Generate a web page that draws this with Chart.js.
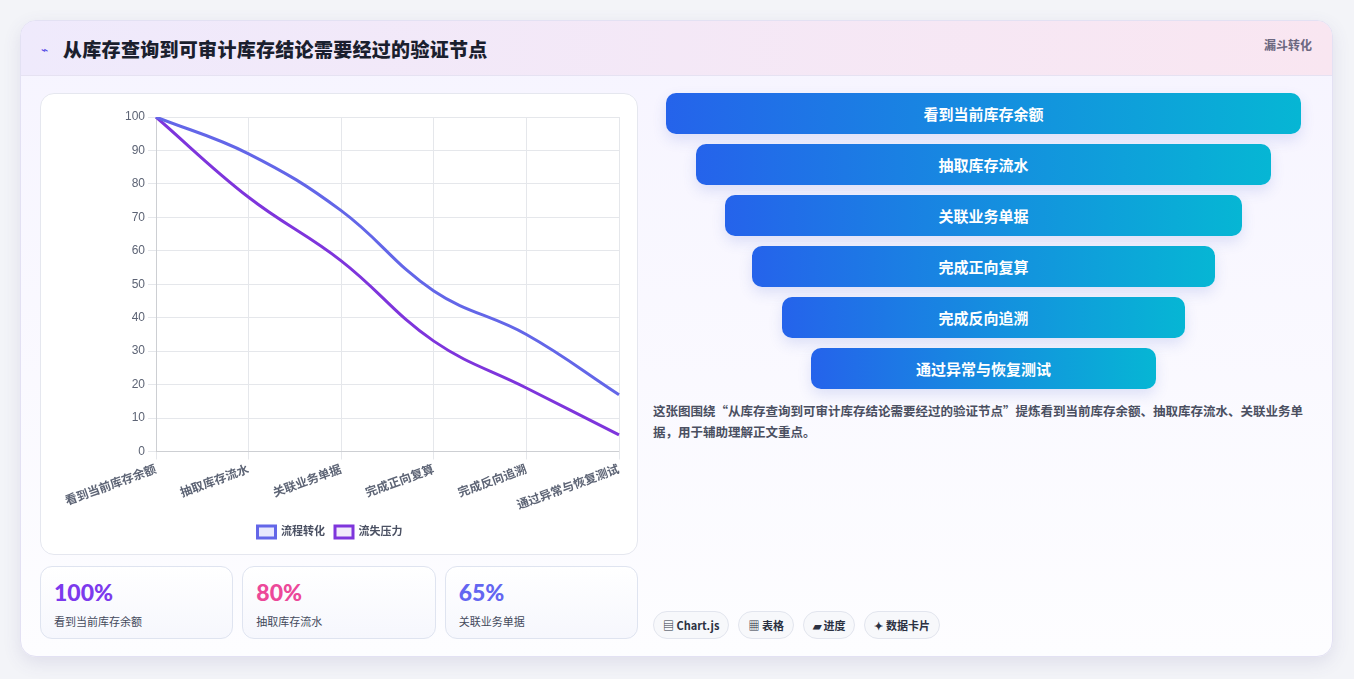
<!DOCTYPE html>
<html><head><meta charset="utf-8">
<script src="https://cdn.jsdelivr.net/npm/chart.js@4.4.1/dist/chart.umd.min.js"></script>
<style>
*{box-sizing:border-box;margin:0;padding:0}
body{width:1354px;height:679px;background:#f3f4f8;font-family:"Noto Sans CJK SC","Noto Sans",sans-serif;position:relative;overflow:hidden}
.card{position:absolute;left:20px;top:20px;width:1313px;height:637px;border-radius:16px;background:linear-gradient(180deg,#f6f4ff,#fdfdff);border:1px solid #e3e1f3;box-shadow:0 6px 18px rgba(80,70,140,.12);overflow:hidden}
.head{height:55px;background:linear-gradient(90deg,#efeafc,#f9e6f1);border-bottom:1px solid #e6e2f2;position:relative}
.head h1{position:absolute;left:42px;top:14px;font-size:19px;font-weight:900;color:#1b1f2e;letter-spacing:0.3px}
.head .ic{position:absolute;left:20px;top:19px;font-size:12px;color:#4f46e5}
.head .tag{position:absolute;right:20px;top:15px;font-size:12px;font-weight:700;color:#6b6880}
.cbox{position:absolute;left:19px;top:72px;width:598px;height:462px;background:#fff;border:1px solid #e5e7ef;border-radius:14px}
.stats{position:absolute;left:19px;top:545px;width:598px;height:73px;display:flex;gap:9px}
.st{flex:1;background:linear-gradient(180deg,#fff,#f6f7fd);border:1px solid #dfe4f0;border-radius:12px;padding:10px 13px}
.st b{display:block;font-family:Lato,"Noto Sans";font-size:23px;font-weight:900;line-height:30px}
.st span{font-size:11px;color:#444a5c}
.funnel{position:absolute;left:632px;top:72px;width:661px}
.fb{height:41px;margin:0 auto 10px;border-radius:10px;background:linear-gradient(90deg,#2563eb,#06b6d4);color:#fff;font-weight:700;font-size:15px;display:flex;align-items:center;justify-content:center;box-shadow:0 6px 14px rgba(60,90,200,.15)}
.desc{position:absolute;left:632px;top:379px;width:668px;font-size:12.5px;line-height:21px;color:#4a4f61;font-weight:700}
.pills{position:absolute;left:632px;top:590px;display:flex;gap:9px}
.pill{height:28px;padding:0 9px;border:1px solid #e2e5ee;border-radius:14px;background:#f7f8fb;font-size:11px;font-weight:700;color:#2b3142;display:flex;align-items:center}
</style></head><body>
<div class="card">
 <div class="head"><span class="ic">⌁</span><h1>从库存查询到可审计库存结论需要经过的验证节点</h1><span class="tag">漏斗转化</span></div>
 <div class="cbox"><canvas id="c" width="596" height="460"></canvas></div>
 <div class="stats" id="stats"></div>
 <div class="funnel" id="funnel"></div>
 <div class="desc">这张图围绕“从库存查询到可审计库存结论需要经过的验证节点”提炼看到当前库存余额、抽取库存流水、关联业务单据，用于辅助理解正文重点。</div>
 <div class="pills"><div class="pill">▤ Chart.js</div><div class="pill">▦ 表格</div><div class="pill">▰ 进度</div><div class="pill">✦ 数据卡片</div></div>
</div>
<script>
const stages = ['看到当前库存余额','抽取库存流水','关联业务单据','完成正向复算','完成反向追溯','通过异常与恢复测试'];
const flowValues = [100, 89, 72, 48, 35, 17];
const lossValues = [100, 76, 57, 33, 19, 5];
const funnelWidths = [100, 90.7, 81.4, 73, 63.6, 54.3];
const statValues = ['100%', '80%', '65%'];
const statColors = ['#7c3aed', '#ec4899', '#6366f1'];

document.getElementById('funnel').innerHTML = stages.map((s, i) =>
  `<div class="fb" style="width:${funnelWidths[i] * 6.35}px">${s}</div>`).join('');
document.getElementById('stats').innerHTML = statValues.map((v, i) =>
  `<div class="st"><b style="color:${statColors[i]}">${v}</b><span>${stages[i]}</span></div>`).join('');

Chart.defaults.font.family = "'Liberation Sans','Noto Sans CJK SC',sans-serif";
new Chart(document.getElementById('c'), {
  type: 'line',
  data: {
    labels: stages,
    datasets: [
      {label: '流程转化', data: flowValues, borderColor: '#6366e8', backgroundColor: 'rgba(99,102,241,0.15)', borderWidth: 3, tension: 0.4, pointRadius: 0},
      {label: '流失压力', data: lossValues, borderColor: '#7e35dc', backgroundColor: 'rgba(126,53,220,0.1)', borderWidth: 3, tension: 0.4, pointRadius: 0}
    ]
  },
  options: {
    responsive: false, animation: false,
    layout: {padding: {top: 23, right: 18, left: 0, bottom: 6}},
    plugins: {legend: {position: 'bottom', labels: {boxWidth: 18, boxHeight: 12, color: '#4b5163', font: {size: 11, weight: 'bold'}}}},
    scales: {
      y: {min: 0, max: 100, afterFit: s => { s.width = 115; }, ticks: {stepSize: 10, color: '#5d6475', font: {size: 12}}, grid: {color: '#e5e7eb'}},
      x: {ticks: {maxRotation: 20, minRotation: 20, color: '#5d6475', font: {size: 12, weight: 'bold'}}, grid: {color: '#e5e7eb'}}
    }
  }
});
</script>
</body></html>
